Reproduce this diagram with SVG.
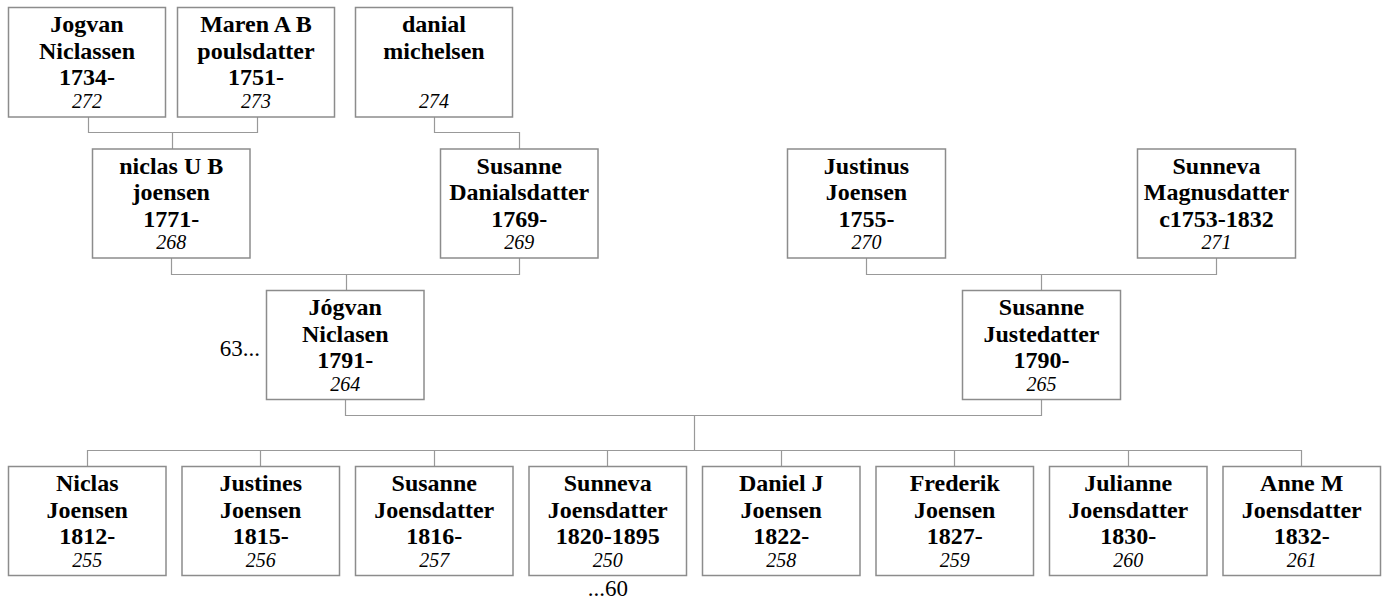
<svg xmlns="http://www.w3.org/2000/svg" width="1383" height="604" viewBox="0 0 1383 604">
<style>
rect.box{fill:#fff;stroke:#8c8c8c;stroke-width:1.5}
.c path{fill:none;stroke:#999;stroke-width:1.2}
text{font-family:"Liberation Serif","Times New Roman",serif;fill:#000;text-anchor:middle}
.n{font-weight:bold;font-size:24px}
.i{font-style:italic;font-size:20px}
.o{font-size:23px}
</style>
<rect width="1383" height="604" fill="#fff"/>
<g class="c">
<path d="M88.5,117 V132.5 H257.5 V117 M172.5,132.5 V149"/>
<path d="M434.5,117 V132.5 H519.5 V149"/>
<path d="M171.5,258 V274.5 H519.5 V258 M346.5,274.5 V290.5"/>
<path d="M866.5,258 V274.5 H1216.5 V258 M1041.5,274.5 V290.5"/>
<path d="M345.5,399.5 V415.5 H1041.5 V399.5 M694.5,415.5 V450.5"/>
<path d="M87.5,466.5 V450.5 H1301.5 V466.5 M260.5,450.5 V466.5 M434.5,450.5 V466.5 M607.5,450.5 V466.5 M781.5,450.5 V466.5 M954.5,450.5 V466.5 M1128.5,450.5 V466.5"/>
</g>
<g id="n272"><rect class="box" x="8.5" y="7.5" width="157" height="109.5"/>
<text x="87" y="32" class="n">Jogvan</text><text x="87" y="58.5" class="n">Niclassen</text><text x="87" y="85" class="n">1734-</text><text x="87" y="108" class="i">272</text></g>
<g id="n273"><rect class="box" x="177.5" y="7.5" width="157" height="109.5"/>
<text x="256" y="32" class="n">Maren A B</text><text x="256" y="58.5" class="n">poulsdatter</text><text x="256" y="85" class="n">1751-</text><text x="256" y="108" class="i">273</text></g>
<g id="n274"><rect class="box" x="355.5" y="7.5" width="157" height="109.5"/>
<text x="434" y="32" class="n">danial</text><text x="434" y="58.5" class="n">michelsen</text><text x="434" y="108" class="i">274</text></g>
<g id="n268"><rect class="box" x="92.5" y="149" width="157.5" height="109"/>
<text x="171.25" y="173.5" class="n">niclas U B</text><text x="171.25" y="200" class="n">joensen</text><text x="171.25" y="226.5" class="n">1771-</text><text x="171.25" y="249" class="i">268</text></g>
<g id="n269"><rect class="box" x="440.5" y="149" width="157.5" height="109"/>
<text x="519.25" y="173.5" class="n">Susanne</text><text x="519.25" y="200" class="n">Danialsdatter</text><text x="519.25" y="226.5" class="n">1769-</text><text x="519.25" y="249" class="i">269</text></g>
<g id="n270"><rect class="box" x="787.5" y="149" width="158" height="109"/>
<text x="866.5" y="173.5" class="n">Justinus</text><text x="866.5" y="200" class="n">Joensen</text><text x="866.5" y="226.5" class="n">1755-</text><text x="866.5" y="249" class="i">270</text></g>
<g id="n271"><rect class="box" x="1137.5" y="149" width="158" height="109"/>
<text x="1216.5" y="173.5" class="n">Sunneva</text><text x="1216.5" y="200" class="n">Magnusdatter</text><text x="1216.5" y="226.5" class="n">c1753-1832</text><text x="1216.5" y="249" class="i">271</text></g>
<g id="n264"><rect class="box" x="266.5" y="290.5" width="157.5" height="109"/>
<text x="345.25" y="315" class="n">Jógvan</text><text x="345.25" y="341.5" class="n">Niclasen</text><text x="345.25" y="368" class="n">1791-</text><text x="345.25" y="390.5" class="i">264</text></g>
<text x="260" y="355.5" class="o" style="text-anchor:end">63...</text>
<g id="n265"><rect class="box" x="962.5" y="290.5" width="158" height="109"/>
<text x="1041.5" y="315" class="n">Susanne</text><text x="1041.5" y="341.5" class="n">Justedatter</text><text x="1041.5" y="368" class="n">1790-</text><text x="1041.5" y="390.5" class="i">265</text></g>
<g id="n255"><rect class="box" x="8.5" y="466.5" width="157.5" height="109"/>
<text x="87.25" y="491" class="n">Niclas</text><text x="87.25" y="517.5" class="n">Joensen</text><text x="87.25" y="544" class="n">1812-</text><text x="87.25" y="566.5" class="i">255</text></g>
<g id="n256"><rect class="box" x="182" y="466.5" width="157.5" height="109"/>
<text x="260.75" y="491" class="n">Justines</text><text x="260.75" y="517.5" class="n">Joensen</text><text x="260.75" y="544" class="n">1815-</text><text x="260.75" y="566.5" class="i">256</text></g>
<g id="n257"><rect class="box" x="355.5" y="466.5" width="157.5" height="109"/>
<text x="434.25" y="491" class="n">Susanne</text><text x="434.25" y="517.5" class="n">Joensdatter</text><text x="434.25" y="544" class="n">1816-</text><text x="434.25" y="566.5" class="i">257</text></g>
<g id="n250"><rect class="box" x="529" y="466.5" width="157.5" height="109"/>
<text x="607.75" y="491" class="n">Sunneva</text><text x="607.75" y="517.5" class="n">Joensdatter</text><text x="607.75" y="544" class="n">1820-1895</text><text x="607.75" y="566.5" class="i">250</text></g>
<text x="607.75" y="595.5" class="o">...60</text>
<g id="n258"><rect class="box" x="702.5" y="466.5" width="157.5" height="109"/>
<text x="781.25" y="491" class="n">Daniel J</text><text x="781.25" y="517.5" class="n">Joensen</text><text x="781.25" y="544" class="n">1822-</text><text x="781.25" y="566.5" class="i">258</text></g>
<g id="n259"><rect class="box" x="876" y="466.5" width="157.5" height="109"/>
<text x="954.75" y="491" class="n">Frederik</text><text x="954.75" y="517.5" class="n">Joensen</text><text x="954.75" y="544" class="n">1827-</text><text x="954.75" y="566.5" class="i">259</text></g>
<g id="n260"><rect class="box" x="1049.5" y="466.5" width="157.5" height="109"/>
<text x="1128.25" y="491" class="n">Julianne</text><text x="1128.25" y="517.5" class="n">Joensdatter</text><text x="1128.25" y="544" class="n">1830-</text><text x="1128.25" y="566.5" class="i">260</text></g>
<g id="n261"><rect class="box" x="1223" y="466.5" width="157.5" height="109"/>
<text x="1301.75" y="491" class="n">Anne M</text><text x="1301.75" y="517.5" class="n">Joensdatter</text><text x="1301.75" y="544" class="n">1832-</text><text x="1301.75" y="566.5" class="i">261</text></g>
</svg>
